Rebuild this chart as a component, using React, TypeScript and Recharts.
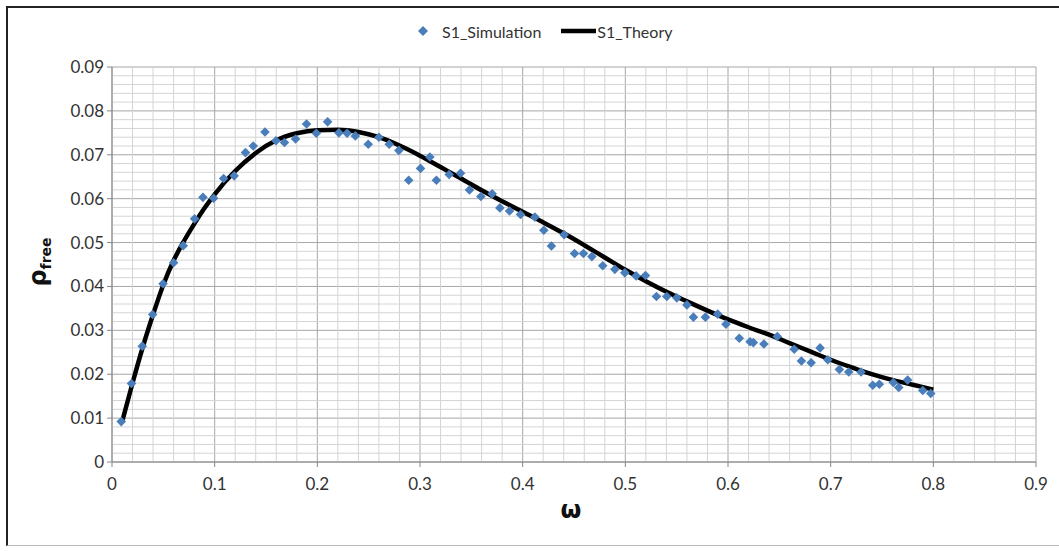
import React from "react";
import {
  ComposedChart,
  Line,
  Scatter,
  XAxis,
  YAxis,
  CartesianGrid,
  ReferenceLine,
} from "recharts";

// ---- Data ----
const simX = [
  0.009, 0.019, 0.0295, 0.0396, 0.0497, 0.06, 0.0694, 0.0805, 0.0886, 0.099,
  0.1087, 0.119, 0.13, 0.1376, 0.149, 0.1597, 0.168, 0.1788, 0.1895, 0.199,
  0.21, 0.221, 0.229, 0.237, 0.2496, 0.26, 0.27, 0.2794, 0.289, 0.3005,
  0.3096, 0.316, 0.3284, 0.3395, 0.3482, 0.3593, 0.3703, 0.3778, 0.3872, 0.3979,
  0.4119, 0.4206, 0.428, 0.4404, 0.4505, 0.4592, 0.4674, 0.478, 0.4898, 0.4995,
  0.5105, 0.5196, 0.5303, 0.5404, 0.5501, 0.56, 0.5663, 0.578, 0.59, 0.598,
  0.611, 0.6215, 0.6247, 0.635, 0.648, 0.6645, 0.6715, 0.681, 0.6897, 0.6972,
  0.7085, 0.7176, 0.7296, 0.741, 0.7474, 0.761, 0.7663, 0.775, 0.7897, 0.7975,
];
const simY = [
  0.0092, 0.0179, 0.0264, 0.0336, 0.0406, 0.0454, 0.0493, 0.0554, 0.0603, 0.0601,
  0.0646, 0.0652, 0.0705, 0.072, 0.0752, 0.0732, 0.0728, 0.0736, 0.077, 0.0749,
  0.0775, 0.075, 0.0749, 0.0743, 0.0724, 0.074, 0.0724, 0.071, 0.0642, 0.0669,
  0.0695, 0.0642, 0.0655, 0.0658, 0.062, 0.0605, 0.0611, 0.0579, 0.0572, 0.0564,
  0.0558, 0.0528, 0.0492, 0.0518, 0.0475, 0.0475, 0.0468, 0.0447, 0.0439, 0.0431,
  0.0424, 0.0425, 0.0377, 0.0377, 0.0374, 0.0358, 0.033, 0.033, 0.0337, 0.0314,
  0.0282, 0.0274, 0.0272, 0.0269, 0.0286, 0.0257, 0.023, 0.0226, 0.026, 0.0233,
  0.0211, 0.0205, 0.0205, 0.0175, 0.0177, 0.0181, 0.017, 0.0187, 0.0163, 0.0156,
];

const theoryX = [
  0.01, 0.02, 0.03, 0.04, 0.05, 0.06, 0.07, 0.08, 0.09, 0.1,
  0.12, 0.14, 0.16, 0.18, 0.2, 0.22, 0.24, 0.26, 0.28, 0.3,
  0.32, 0.34, 0.36, 0.38, 0.4, 0.42, 0.44, 0.46, 0.48, 0.5,
  0.52, 0.54, 0.56, 0.58, 0.6, 0.62, 0.64, 0.66, 0.68, 0.7,
  0.72, 0.74, 0.76, 0.78, 0.8,
];
const theoryY = [
  0.0093, 0.018, 0.0262, 0.0336, 0.0404, 0.0459, 0.0503, 0.0542, 0.0578, 0.061,
  0.0663, 0.0704, 0.0733, 0.0749, 0.0756, 0.0757, 0.0752, 0.074, 0.0721, 0.0698,
  0.0672, 0.0646, 0.0619, 0.0594, 0.057, 0.0546, 0.0521, 0.0494, 0.0466, 0.0438,
  0.0412, 0.0388, 0.0366, 0.0345, 0.0325, 0.0307, 0.029, 0.0271, 0.0252, 0.0233,
  0.0216, 0.02, 0.0187, 0.0176, 0.0165,
];

const xTicks = [0, 0.1, 0.2, 0.3, 0.4, 0.5, 0.6, 0.7, 0.8, 0.9];
const yTicks = [0, 0.01, 0.02, 0.03, 0.04, 0.05, 0.06, 0.07, 0.08, 0.09];
const xTickLabels = ["0", "0.1", "0.2", "0.3", "0.4", "0.5", "0.6", "0.7", "0.8", "0.9"];
const yTickLabels = ["0", "0.01", "0.02", "0.03", "0.04", "0.05", "0.06", "0.07", "0.08", "0.09"];

const simData = simX.map((x, i) => ({ x, y: simY[i] }));
const theoryData = theoryX.map((x, i) => ({ x, y: theoryY[i] }));

// minor grid positions (between major ticks)
const xMinor: number[] = [];
for (let i = 1; i < 45; i++) if (i % 5 !== 0) xMinor.push(+(i * 0.02).toFixed(3));
const yMinor: number[] = [];
for (let i = 1; i < 45; i++) if (i % 5 !== 0) yMinor.push(+(i * 0.002).toFixed(4));

const FONT = "Lato, 'Open Sans', sans-serif";
const BLUE = "#4a7ebb";

const Diamond = (props: any) => {
  const { cx, cy } = props;
  if (cx == null || cy == null) return null;
  const r = 4.8;
  return (
    <polygon
      points={`${cx},${cy - r} ${cx + r},${cy} ${cx},${cy + r} ${cx - r},${cy}`}
      fill={BLUE}
    />
  );
};

export default function App() {
  return (
    <div
      style={{
        position: "absolute",
        left: 0,
        top: 0,
        width: 1059,
        height: 551,
        background: "#fff",
        fontFamily: FONT,
      }}
    >
      {/* chart frame */}
      <div
        style={{
          position: "absolute",
          left: 6,
          top: 6,
          width: 1060,
          height: 540,
          borderLeft: "2px solid #222",
          borderTop: "2px solid #222",
          borderBottom: "1px solid #bbb",
          boxSizing: "border-box",
        }}
      />
      <ComposedChart
        width={1059}
        height={551}
        margin={{ top: 67, right: 23, bottom: 59, left: 0 }}
        style={{ position: "absolute", left: 0, top: 0 }}
      >
        {xMinor.map((v) => (
          <ReferenceLine key={"xm" + v} x={v} stroke="#d4d4d4" strokeWidth={1} />
        ))}
        {yMinor.map((v) => (
          <ReferenceLine key={"ym" + v} y={v} stroke="#d4d4d4" strokeWidth={1} />
        ))}
        <CartesianGrid stroke="#a6a6a6" strokeWidth={1} />
        <XAxis
          type="number"
          dataKey="x"
          domain={[0, 0.9]}
          ticks={xTicks}
          tickFormatter={(v: number) => xTickLabels[xTicks.indexOf(v)] ?? String(v)}
          allowDataOverflow
          height={30}
          stroke="#868686"
          tickSize={5}
          tickMargin={11}
          tick={{ fill: "#333", fontSize: 17, fontFamily: FONT }}
          interval={0}
        />
        <YAxis
          type="number"
          dataKey="y"
          domain={[0, 0.09]}
          ticks={yTicks}
          tickFormatter={(v: number) => yTickLabels[yTicks.indexOf(v)] ?? String(v)}
          allowDataOverflow
          width={112}
          stroke="#868686"
          tickSize={5}
          tickMargin={3}
          tick={{ fill: "#333", fontSize: 17, fontFamily: FONT }}
          interval={0}
        />
        <Scatter
          name="S1_Simulation"
          data={simData}
          dataKey="y"
          fill={BLUE}
          shape={<Diamond />}
          isAnimationActive={false}
        />
        <Line
          name="S1_Theory"
          data={theoryData}
          dataKey="y"
          type="monotone"
          stroke="#000"
          strokeWidth={4.5}
          dot={false}
          activeDot={false}
          isAnimationActive={false}
        />
      </ComposedChart>

      {/* legend */}
      <div
        style={{
          position: "absolute",
          left: 417,
          top: 21,
          height: 20,
          display: "flex",
          alignItems: "center",
          fontSize: 16,
          color: "#333",
          whiteSpace: "nowrap",
        }}
      >
        <svg width={12} height={12} style={{ marginRight: 13 }}>
          <polygon points="6,1 11,6 6,11 1,6" fill={BLUE} />
        </svg>
        <span>S1_Simulation</span>
        <svg width={36} height={12} style={{ marginLeft: 20 }}>
          <line x1={0} y1={6} x2={35} y2={6} stroke="#000" strokeWidth={4.5} />
        </svg>
        <span>S1_Theory</span>
      </div>

      {/* y axis title */}
      <div
        style={{
          position: "absolute",
          left: 38,
          top: 262,
          transform: "translate(-50%, -50%) rotate(-90deg)",
          fontWeight: "bold",
          color: "#111",
          whiteSpace: "nowrap",
          fontFamily: "'DejaVu Sans', sans-serif",
        }}
      >
        <span style={{ fontSize: 24 }}>ρ</span>
        <span style={{ fontSize: 14, position: "relative", top: 5 }}>free</span>
      </div>

      {/* x axis title */}
      <div
        style={{
          position: "absolute",
          left: 571,
          top: 510,
          transform: "translate(-50%, -50%)",
          fontWeight: "bold",
          fontSize: 24,
          color: "#111",
          fontFamily: "'DejaVu Sans', sans-serif",
        }}
      >
        ω
      </div>
    </div>
  );
}
